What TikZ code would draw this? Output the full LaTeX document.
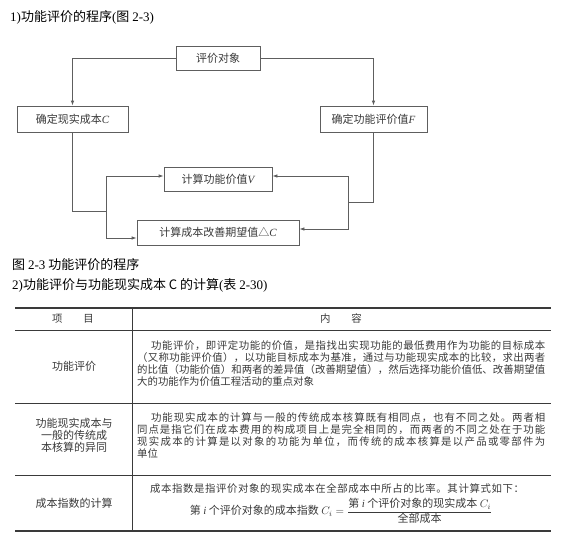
\documentclass[tikz,border=0pt]{standalone}
\usepackage{fontspec,amsmath}
\setmainfont{Liberation Serif}
\newfontfamily\cjk{Noto Sans CJK SC}
\usetikzlibrary{arrows.meta,positioning}
\definecolor{ink}{HTML}{3A3A3A}
\definecolor{lgray}{HTML}{5E5E5E}
\newcommand{\mv}[1]{{\rmfamily\itshape #1}}
\makeatletter
\def\jl@end{\jl@end}
\def\jl@loop#1{\ifx#1\jl@end\else#1\hskip 0pt plus 1fil\expandafter\jl@loop\fi}
\newcommand{\jline}[3][0pt]{\makebox[#2][s]{\hspace*{#1}\jl@loop#3\jl@end\unskip}}
\makeatother
\tikzset{
  box/.style={draw=lgray,line width=0.8pt,minimum height=25pt,inner sep=0pt,font=\fontsize{11}{13}\cjk,text=ink},
  ar/.style={-{Latex[length=5pt,width=3.5pt]},draw=lgray,line width=0.8pt},
  wire/.style={draw=lgray,line width=0.8pt},
  captext/.style={anchor=west,inner sep=0pt,font=\fontsize{13}{15}\cjk},
  cell/.style={inner sep=0pt,font=\fontsize{10.4}{11.7}\cjk,text=ink},
  label/.style={cell,font=\fontsize{11}{12}\cjk,align=center},
  rowtext/.style={cell,anchor=west,align=left},
  hrule/.style={draw=ink,line width=0.6pt},
}
\begin{document}
\begin{tikzpicture}[x=1pt,y=-1pt]
\path[use as bounding box,fill=white] (0,0) rectangle (562,535);
\node[captext] (title) at (10,17) {{\rmfamily 1)}功能评价的程序{\rmfamily (}图 {\rmfamily 2-3)}};

\node[box,minimum width=84pt,minimum height=24pt] (obj) at (218,58) {评价对象};
\node[box,minimum width=111pt,minimum height=26pt] (cost) at (72.5,119) {确定现实成本\mv{C}};
\node[box,minimum width=107pt,minimum height=26pt] (fval) at (373.5,119) {确定功能评价值\mv{F}};
\node[box,minimum width=108pt,minimum height=24pt] (val) at (218,179) {计算功能价值\mv{V}};
\node[box,minimum width=162pt] (dc) at (218,232.5) {计算成本改善期望值△\mv{C}};
\coordinate (lj) at (106,211);
\coordinate (rj) at (348,202);

\draw[ar] (obj.west) -| (cost.north);
\draw[ar] (obj.east) -| (fval.north);
\draw[wire] (cost.south) |- (lj);
\draw[ar] (lj) |- ([yshift=3pt]val.west);
\draw[ar] (lj) |- ([yshift=-5.5pt]dc.west);
\draw[wire] (fval.south) |- (rj);
\draw[ar] (rj) |- ([yshift=3pt]val.east);
\draw[ar] (rj) |- ([yshift=3.5pt]dc.east);

\node[captext] (figcap) at (12,265) {图 {\rmfamily 2-3} 功能评价的程序};
\node[captext] (tabcap) at (12,285) {{\rmfamily 2)}功能评价与功能现实成本 C 的计算{\rmfamily (}表 {\rmfamily 2-30)}};

\draw[hrule,line width=1.1pt] (15,308) -- (551,308);
\draw[hrule] (15,330) -- (551,330);
\draw[hrule] (15,403) -- (551,403);
\draw[hrule] (15,475) -- (551,475);
\draw[hrule,line width=1.1pt] (15,531) -- (551,531);
\draw[hrule] (132,308) -- (132,531);

\node[cell] (hitem) at (73,319) {项\hspace{2em}目};
\node[cell] (hcont) at (341,319) {内\hspace{2em}容};

\node[label] (item1) at (74,366) {功能评价};
\node[rowtext] (text1) at (137,363.5) {%
\jline[14pt]{408pt}{功能评价，即评定功能的价值，是指找出实现功能的最低费用作为功能的目标成本}\\
\jline{408pt}{（又称功能评价值），以功能目标成本为基准，通过与功能现实成本的比较，求出两者}\\
\jline{408pt}{的比值（功能价值）和两者的差异值（改善期望值），然后选择功能价值低、改善期望值}\\
大的功能作为价值工程活动的重点对象};

\node[label] (item2) at (74,435) {功能现实成本与\\一般的传统成\\本核算的异同};
\node[rowtext] (text2) at (137,435.5) {%
\jline[14pt]{408pt}{功能现实成本的计算与一般的传统成本核算既有相同点，也有不同之处。两者相}\\
\jline{408pt}{同点是指它们在成本费用的构成项目上是完全相同的，而两者的不同之处在于功能}\\
\jline{408pt}{现实成本的计算是以对象的功能为单位，而传统的成本核算是以产品或零部件为}\\
单位};

\node[label] (item3) at (74,503) {成本指数的计算};
\node[cell] (text3) at (337,489) {\jline{374pt}{成本指数是指评价对象的现实成本在全部成本中所占的比率。其计算式如下：}};
\node[cell,font=\fontsize{11}{12}\cjk] (formula) at (341,511) {第 \mv{i} 个评价对象的成本指数 $C_i=\dfrac{\text{第 \mv{i} 个评价对象的现实成本 }C_i}{\text{全部成本}}$};
\end{tikzpicture}
\end{document}
